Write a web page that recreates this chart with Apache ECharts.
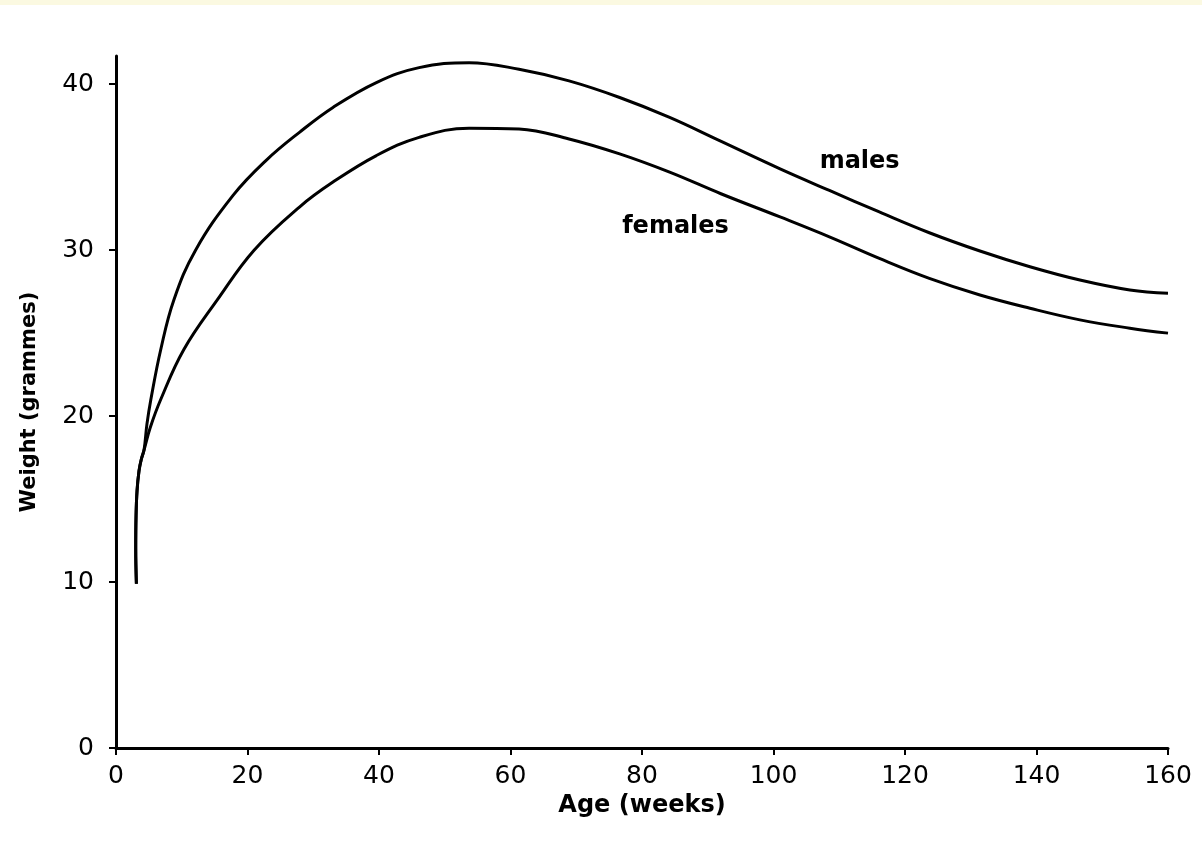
<!DOCTYPE html>
<html>
<head>
<meta charset="utf-8">
<script src="https://cdn.jsdelivr.net/npm/echarts@6/dist/echarts.min.js"></script>
<style>
html,body{margin:0;padding:0;background:#fff;}
#c{width:1202px;height:846px;}
</style>
</head>
<body>
<div id="c"></div>
<script>
const xTicks = [0, 20, 40, 60, 80, 100, 120, 140, 160];
const yTicks = [0, 10, 20, 30, 40];

const malesAge = [3.1, 3.0, 3.05, 3.2, 3.5, 3.85, 4.26, 4.7, 5.3, 6.8, 8.8, 12.1, 17.8, 22.8, 27.9, 33.0, 39.6, 46.1, 53.7, 61.3, 68.9, 76.6, 84.2, 91.8, 101.0, 108.5, 116.1, 123.7, 131.4, 139.0, 146.6, 154.2, 160];
const malesWeight = [9.9, 12.0, 14.0, 15.5, 16.7, 17.4, 17.95, 19.5, 21.0, 24.0, 27.0, 30.0, 33.3, 35.4, 37.1, 38.6, 40.1, 41.0, 41.3, 40.9, 40.2, 39.2, 38.0, 36.6, 34.9, 33.6, 32.3, 31.05, 29.95, 29.0, 28.2, 27.6, 27.4];

const femalesAge = [3.1, 3.0, 3.05, 3.2, 3.5, 3.85, 4.26, 5.2, 6.8, 10.3, 15.4, 21.0, 27.9, 33.0, 39.6, 46.1, 53.7, 61.3, 68.9, 76.6, 84.2, 92.0, 101.0, 108.5, 116.1, 123.7, 131.4, 139.0, 146.6, 154.2, 160];
const femalesWeight = [9.9, 12.0, 14.0, 15.5, 16.7, 17.4, 17.95, 19.3, 21.0, 24.0, 27.0, 30.0, 32.6, 34.1, 35.7, 36.8, 37.35, 37.3, 36.7, 35.8, 34.7, 33.4, 32.0, 30.8, 29.5, 28.3, 27.3, 26.5, 25.8, 25.3, 25.0];

const seriesNames = ['males', 'females'];
const labelAt = { males: [113.1, 35.3], females: [85.1, 31.4] };

const xName = 'Age (weeks)';
const yName = 'Weight (grammes)';

function pairs(xs, ys) { return xs.map((x, i) => [x, ys[i]]); }

const font = 'DejaVu Sans';
const chart = echarts.init(document.getElementById('c'), null, { renderer: 'canvas' });

function mkSeries(name, data) {
  return {
    name: name,
    type: 'line',
    data: data,
    smooth: 0.4,
    showSymbol: false,
    symbol: 'none',
    lineStyle: { color: '#000', width: 3 },
    z: 3,
    markPoint: {
      symbol: 'circle',
      symbolSize: 2,
      itemStyle: { color: 'rgba(0,0,0,0)' },
      data: [{ coord: labelAt[name], value: name }],
      label: {
        show: true,
        formatter: name,
        color: '#000',
        fontFamily: font,
        fontWeight: 'bold',
        fontSize: 24,
        position: 'inside'
      }
    }
  };
}

chart.setOption({
  backgroundColor: '#fff',
  animation: false,
  graphic: [{
    type: 'rect', left: 0, top: 0,
    shape: { width: 1202, height: 5 },
    style: { fill: '#fbf9e1' }
  }],
  grid: { left: 116, right: 34, top: 56, bottom: 98, containLabel: false },
  xAxis: {
    type: 'value',
    min: 0, max: 160, interval: 20,
    name: xName,
    nameLocation: 'middle',
    nameGap: 38,
    nameTextStyle: { color: '#000', fontFamily: font, fontWeight: 'bold', fontSize: 24 },
    axisLine: { show: true, onZero: false, lineStyle: { color: '#000', width: 3 } },
    axisTick: { show: true, length: 7, lineStyle: { color: '#000', width: 2 } },
    axisLabel: { color: '#000', fontFamily: font, fontSize: 25, margin: 16 },
    splitLine: { show: false }
  },
  yAxis: {
    type: 'value',
    min: 0, max: 41.7,
    name: yName,
    nameLocation: 'middle',
    nameGap: 76,
    nameRotate: 90,
    nameTextStyle: { color: '#000', fontFamily: font, fontWeight: 'bold', fontSize: 21 },
    axisLine: { show: true, onZero: false, lineStyle: { color: '#000', width: 3 } },
    axisTick: { show: true, length: 7, customValues: yTicks, lineStyle: { color: '#000', width: 2 } },
    axisLabel: { color: '#000', fontFamily: font, fontSize: 25, margin: 22, customValues: yTicks },
    splitLine: { show: false }
  },
  series: [
    mkSeries(seriesNames[0], pairs(malesAge, malesWeight)),
    mkSeries(seriesNames[1], pairs(femalesAge, femalesWeight))
  ]
});
</script>
</body>
</html>
